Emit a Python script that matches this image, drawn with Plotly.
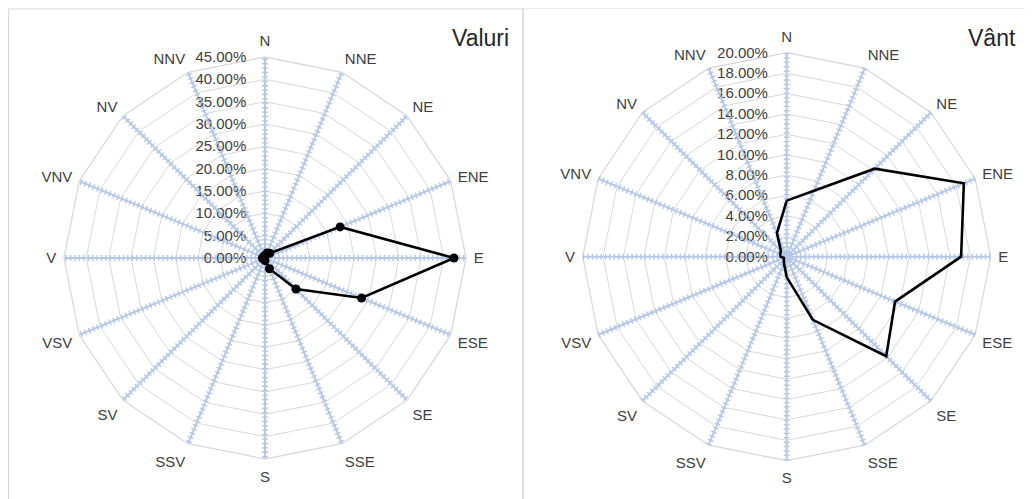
import plotly.graph_objects as go

directions = ["N", "NNE", "NE", "ENE", "E", "ESE", "SE", "SSE",
              "S", "SSV", "SV", "VSV", "V", "VNV", "NV", "NNV"]
valuri = [0.5, 1.2, 1.5, 18.2, 42.3, 23.4, 9.8, 2.6,
          0.6, 0.3, 0.3, 0.3, 0.6, 0.4, 0.3, 0.5]
vant = [5.5, 7.0, 12.2, 18.8, 17.1, 11.5, 13.8, 6.7,
        2.0, 0.7, 0.4, 0.3, 0.6, 0.7, 0.8, 2.5]
valuri_range = [0, 45]
valuri_dtick = 5
vant_range = [0, 20]
vant_dtick = 2
titles = ["Valuri", "Vânt"]

OFF = 8  # page body margin
W, H = 1033 - OFF, 499 - OFF
FONT = "Liberation Sans"
TXT = "#404040"
GRID = "#d9d9d9"
SPOKE = "#b4c7e7"


def px(x):
    return (x - OFF) / W


def py(y):
    return (H - (y - OFF)) / H


def dom(cx, cy, r):
    return dict(x=[px(cx - r), px(cx + r)], y=[py(cy + r), py(cy - r)])


def base_polar(d, rng, dt):
    return dict(
        domain=d,
        bgcolor="white",
        gridshape="linear",
        angularaxis=dict(direction="clockwise", rotation=90,
                         showgrid=True, gridcolor=SPOKE, gridwidth=2,
                         showline=True, linecolor=GRID, linewidth=1.3,
                         ticks="outside", ticklen=4, tickcolor="rgba(0,0,0,0)",
                         tickfont=dict(family=FONT, size=15, color=TXT)),
        radialaxis=dict(range=rng, dtick=dt, tick0=0, angle=90,
                        tickformat=".2f", ticksuffix="%",
                        showgrid=True, gridcolor=GRID, gridwidth=1.4,
                        showline=False, ticks="outside", ticklen=13,
                        tickcolor="rgba(0,0,0,0)",
                        tickfont=dict(family=FONT, size=15, color=TXT),
                        side="counterclockwise", tickangle=90),
    )


def top_polar(d, rng, dt):
    return dict(
        domain=d,
        bgcolor="rgba(0,0,0,0)",
        gridshape="linear",
        angularaxis=dict(direction="clockwise", rotation=90,
                         showgrid=True, gridcolor=SPOKE, gridwidth=6,
                         griddash="1.4px,3px",
                         showline=False, ticks="", showticklabels=False),
        radialaxis=dict(range=rng, dtick=dt, tick0=0, angle=90,
                        showgrid=False, showline=False, ticks="",
                        showticklabels=False),
    )


d1 = dom(265, 258, 201)
d2 = dom(786.7, 256.7, 204)

fig = go.Figure()
fig.add_trace(go.Scatterpolar(r=[0] * len(directions), theta=directions,
                              mode="lines", line=dict(width=0),
                              hoverinfo="skip", showlegend=False, subplot="polar"))
fig.add_trace(go.Scatterpolar(r=[0] * len(directions), theta=directions,
                              mode="lines", line=dict(width=0),
                              hoverinfo="skip", showlegend=False, subplot="polar2"))
fig.add_trace(go.Scatterpolar(r=valuri + valuri[:1], theta=directions + directions[:1],
                              mode="lines+markers",
                              line=dict(color="black", width=2.6),
                              marker=dict(color="black", size=9),
                              showlegend=False, subplot="polar3"))
fig.add_trace(go.Scatterpolar(r=vant + vant[:1], theta=directions + directions[:1],
                              mode="lines",
                              line=dict(color="black", width=2.6),
                              showlegend=False, subplot="polar4"))

fig.update_layout(
    width=W, height=H,
    margin=dict(l=0, r=0, t=0, b=0),
    paper_bgcolor="white",
    polar=base_polar(d1, valuri_range, valuri_dtick),
    polar2=base_polar(d2, vant_range, vant_dtick),
    polar3=top_polar(d1, valuri_range, valuri_dtick),
    polar4=top_polar(d2, vant_range, vant_dtick),
    shapes=[
        dict(type="rect", xref="paper", yref="paper",
             x0=px(8.5), x1=px(523), y0=-0.1, y1=py(9),
             line=dict(color=GRID, width=1.2)),
        dict(type="rect", xref="paper", yref="paper",
             x0=px(523), x1=1.1, y0=-0.1, y1=py(8),
             line=dict(color=GRID, width=1.2)),
    ],
    annotations=[
        dict(text=titles[0], x=px(511), y=py(38), xref="paper", yref="paper",
             xanchor="right", yanchor="middle", showarrow=False,
             font=dict(family=FONT, size=23, color="#262626")),
        dict(text=titles[1], x=px(1018), y=py(38), xref="paper", yref="paper",
             xanchor="right", yanchor="middle", showarrow=False,
             font=dict(family=FONT, size=23, color="#262626")),
    ],
)

fig.write_html("out.html")
